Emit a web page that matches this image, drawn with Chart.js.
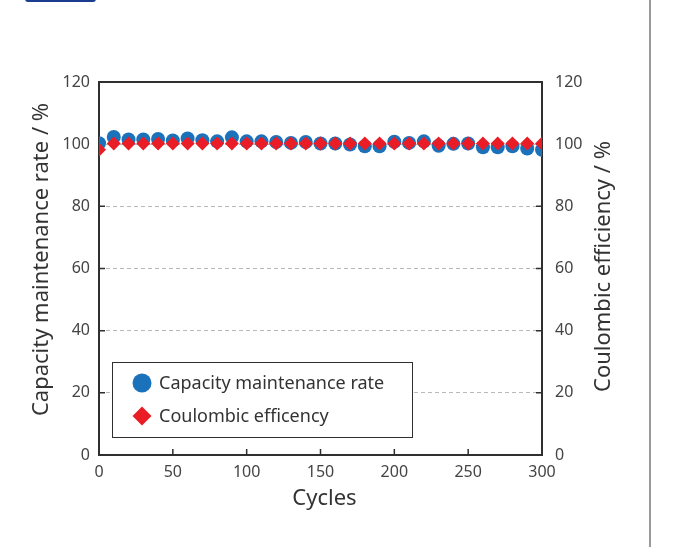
<!DOCTYPE html>
<html>
<head>
<meta charset="utf-8">
<script src="https://cdn.jsdelivr.net/npm/chart.js@4.4.1/dist/chart.umd.min.js"></script>
<style>
  html, body { margin: 0; padding: 0; background: #fff; }
  #wrap { position: relative; width: 677px; height: 547px; overflow: hidden; }
  #wrap canvas { position: absolute; left: 0; top: 0; }
  #tab { position: absolute; left: 25px; top: -4px; width: 71px; height: 6px; background: #1b3d8f; border-radius: 3px; }
  #rule { position: absolute; left: 649px; top: 0; width: 2px; height: 547px; background: #9a9a9a; }
</style>
</head>
<body>
<div id="wrap">
  <canvas id="chart" width="677" height="547"></canvas>
  <div id="tab"></div>
  <div id="rule"></div>
</div>
<script>
// Cycle number of each measurement
const cycles = [0, 10, 20, 30, 40, 50, 60, 70, 80, 90,
                100, 110, 120, 130, 140, 150, 160, 170, 180, 190,
                200, 210, 220, 230, 240, 250, 260, 270, 280, 290, 300];

// Capacity maintenance rate (%)
const capacityRate = [100.3, 102.3, 101.5, 101.5, 101.7, 101.2, 101.8, 101.3, 100.9, 102.2,
                      100.9, 100.9, 100.7, 100.4, 100.7, 100.2, 100.2, 99.9, 99.3, 99.3,
                      100.8, 100.4, 100.9, 99.5, 100.1, 100.2, 99.0, 99.0, 99.3, 98.6, 98.2];

// Coulombic efficiency (%)
const coulombicEff = [98.2, 100.2, 100.2, 100.2, 100.2, 100.2, 100.2, 100.2, 100.2, 100.2,
                      100.2, 100.2, 100.2, 100.2, 100.2, 100.2, 100.2, 100.2, 100.2, 100.2,
                      100.2, 100.2, 100.2, 100.2, 100.2, 100.2, 100.2, 100.2, 100.2, 100.2, 100.2];

// Axis ticks
const xTickValues = [0, 50, 100, 150, 200, 250, 300];
const yTickValues = [0, 20, 40, 60, 80, 100, 120];

const seriesNames = ['Capacity maintenance rate', 'Coulombic efficency'];
const xTitle = 'Cycles';
const yLeftTitle = 'Capacity maintenance rate / %';
const yRightTitle = 'Coulombic efficiency / %';

const FONT = '"Noto Sans", "DejaVu Sans", sans-serif';
const TEXT = '#333333';
const TICK = '#444444';
const AXIS = '#2f2f2f';
const BLUE = '#1a72bb';
const RED = '#ea1d27';

const toPoints = (ys) => cycles.map((c, i) => ({ x: c, y: ys[i] }));
const fixedTicks = (values) => (scale) => { scale.ticks = values.map(v => ({ value: v })); };

// Frame around the plot area with inward-pointing tick marks
const framePlugin = {
  id: 'frame',
  beforeDatasetsDraw(chart) {
    const { ctx, chartArea: a, scales } = chart;
    const tl = 6;
    ctx.save();
    ctx.strokeStyle = AXIS;
    ctx.lineWidth = 1.5;
    ctx.beginPath();
    scales.x.ticks.forEach(t => {
      const px = scales.x.getPixelForValue(t.value);
      ctx.moveTo(px, a.bottom); ctx.lineTo(px, a.bottom - tl);
    });
    scales.y.ticks.forEach(t => {
      const py = scales.y.getPixelForValue(t.value);
      ctx.moveTo(a.left, py); ctx.lineTo(a.left + tl, py);
    });
    scales.y2.ticks.forEach(t => {
      const py = scales.y2.getPixelForValue(t.value);
      ctx.moveTo(a.right, py); ctx.lineTo(a.right - tl, py);
    });
    ctx.stroke();
    ctx.lineWidth = 2;
    ctx.strokeRect(a.left, a.top, a.right - a.left, a.bottom - a.top);
    ctx.restore();
  }
};

// Axis titles (both vertical titles read bottom-to-top)
const titlesPlugin = {
  id: 'axisTitles',
  afterDraw(chart) {
    const { ctx, chartArea: a } = chart;
    const midY = (a.top + a.bottom) / 2;
    const drawText = (text, x, y, rot) => {
      ctx.save();
      ctx.fillStyle = TEXT;
      ctx.font = '22px ' + FONT;
      ctx.textAlign = 'center';
      ctx.textBaseline = 'middle';
      ctx.translate(x, y);
      if (rot) ctx.rotate(rot);
      ctx.fillText(text, 0, 0);
      ctx.restore();
    };
    drawText(xTitle, (a.left + a.right) / 2 + 4, a.bottom + 44, 0);
    drawText(yLeftTitle, a.left - 57, midY - 9, -Math.PI / 2);
    drawText(yRightTitle, a.right + 62, midY - 2, -Math.PI / 2);
  }
};

// Boxed legend inside the lower-left of the plot
const boxLegendPlugin = {
  id: 'boxLegend',
  afterDatasetsDraw(chart) {
    const { ctx, chartArea: a } = chart;
    const w = 300, h = 75;
    const left = a.left + 13, top = a.bottom - 18 - h;
    ctx.save();
    ctx.fillStyle = '#ffffff';
    ctx.fillRect(left, top, w, h);
    ctx.strokeStyle = AXIS;
    ctx.lineWidth = 1;
    ctx.strokeRect(left + 0.5, top + 0.5, w, h);
    ctx.font = '18px ' + FONT;
    ctx.textBaseline = 'middle';
    ctx.textAlign = 'left';
    chart.data.datasets.forEach((ds, i) => {
      const cy = top + 21 + i * 33;
      const cx = left + 30;
      ctx.fillStyle = ds.backgroundColor;
      ctx.strokeStyle = ds.backgroundColor;
      Chart.helpers.drawPoint(ctx, { pointStyle: ds.pointStyle, radius: 9.5, borderWidth: 0 }, cx, cy);
      ctx.fillStyle = TEXT;
      ctx.fillText(ds.label, left + 47, cy + 1);
    });
    ctx.restore();
  }
};

const tickFont = { family: FONT, size: 16 };

new Chart(document.getElementById('chart'), {
  type: 'scatter',
  data: {
    datasets: [
      {
        label: seriesNames[0],
        data: toPoints(capacityRate),
        pointStyle: 'circle',
        pointRadius: 7,
        pointHoverRadius: 7,
        backgroundColor: BLUE,
        borderColor: BLUE,
        borderWidth: 0,
        order: 2,
        yAxisID: 'y'
      },
      {
        label: seriesNames[1],
        data: toPoints(coulombicEff),
        pointStyle: 'rectRot',
        pointRadius: 7,
        pointHoverRadius: 7,
        backgroundColor: RED,
        borderColor: RED,
        borderWidth: 0,
        order: 1,
        yAxisID: 'y'
      }
    ]
  },
  options: {
    responsive: false,
    animation: false,
    events: [],
    layout: { padding: { top: 82 } },
    plugins: {
      legend: { display: false },
      tooltip: { enabled: false }
    },
    scales: {
      x: {
        type: 'linear',
        min: 0, max: 300,
        afterBuildTicks: fixedTicks(xTickValues),
        afterFit: (s) => { s.height = 92; },
        grid: { display: false, drawTicks: false },
        border: { display: false },
        ticks: { color: TICK, font: tickFont, padding: 8, maxRotation: 0 }
      },
      y: {
        position: 'left',
        min: 0, max: 120,
        afterBuildTicks: fixedTicks(yTickValues),
        afterFit: (s) => { s.width = 99; },
        grid: {
          drawTicks: false,
          lineWidth: 1,
          color: (c) => (c.tick && (c.tick.value === 0 || c.tick.value === 120)) ? 'rgba(0,0,0,0)' : '#b8b8b8'
        },
        border: { display: false, dash: [4, 3] },
        ticks: { color: TICK, font: tickFont, padding: 9 }
      },
      y2: {
        position: 'right',
        min: 0, max: 120,
        afterBuildTicks: fixedTicks(yTickValues),
        afterFit: (s) => { s.width = 135; },
        grid: { display: false, drawTicks: false },
        border: { display: false },
        ticks: { color: TICK, font: tickFont, padding: 13 }
      }
    }
  },
  plugins: [framePlugin, boxLegendPlugin, titlesPlugin]
});
</script>
</body>
</html>
